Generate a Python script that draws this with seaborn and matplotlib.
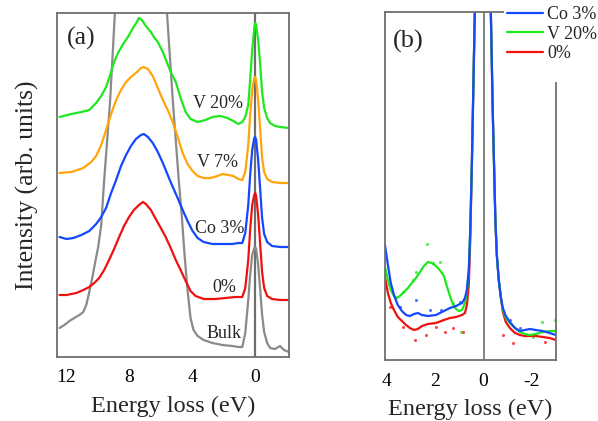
import numpy as np
import pandas as pd
import matplotlib
matplotlib.use("Agg")
from matplotlib import pyplot as plt
from matplotlib.ticker import MultipleLocator
import seaborn as sns

# ---------- panel (a) : offset spectra, energy loss (eV) vs intensity (arb.)
v20_e = [12.44, 11.69, 11.05, 10.55, 10.11, 9.79, 9.48, 9.16, 8.97, 8.72, 8.40, 8.09, 7.77,
         7.52, 7.39, 7.20, 6.95, 6.63, 6.44, 6.19, 5.87, 5.62, 5.37, 5.05, 4.74, 4.42, 4.11,
         3.66, 3.16, 2.72, 2.21, 1.77, 1.39, 1.07, 0.82,
         0.63, 0.44, 0.32, 0.19, 0.06, 0.0, -0.06, -0.19, -0.32, -0.44, -0.57, -0.76, -0.95,
         -1.26, -1.58, -2.15]
v20_i = [240, 243, 245, 247, 254, 261, 270, 285, 295, 304, 313, 320, 329,
         335, 339, 337, 331, 325, 320, 315, 305, 295, 285, 275, 259, 245, 238,
         235, 237, 240, 241, 239, 236, 233, 235,
         240, 252, 277, 307, 329, 334, 332, 317, 292, 265, 249, 239, 234,
         231, 230, 229]

v7_e = [12.44, 11.69, 10.93, 10.42, 10.11, 9.79, 9.48, 9.16, 8.84, 8.53, 8.21, 7.90, 7.58,
        7.26, 7.08, 6.82, 6.51, 6.19, 5.87, 5.56, 5.24, 4.93, 4.61, 4.30, 3.98, 3.66, 3.28,
        2.84, 2.40, 2.08, 1.71, 1.39, 1.07, 0.82,
        0.63, 0.44, 0.32, 0.19, 0.06, 0.0, -0.06, -0.19, -0.32, -0.44, -0.57, -0.76, -1.07,
        -1.58, -2.15]
v7_i = [184, 185, 189, 195, 201, 212, 227, 243, 257, 267, 275, 280, 284,
        289, 290, 288, 281, 269, 257, 247, 235, 220, 204, 193, 186, 181, 179,
        179, 181, 183, 182, 181, 178, 177,
        185, 212, 242, 267, 279, 280, 277, 257, 227, 199, 185, 178, 175,
        174, 174]

co3_e = [12.44, 12.00, 11.56, 11.05, 10.55, 10.11, 9.79, 9.48, 9.16, 8.84, 8.53, 8.21, 7.90,
         7.58, 7.26, 7.08, 6.82, 6.51, 6.19, 5.87, 5.56, 5.24, 4.93, 4.61, 4.30, 3.98, 3.66,
         3.28, 2.72, 2.08, 1.45, 1.07, 0.82,
         0.63, 0.44, 0.32, 0.19, 0.06, 0.0, -0.06, -0.19, -0.32, -0.44, -0.57, -0.76, -1.07,
         -1.58, -2.15]
co3_i = [120, 118, 119, 122, 126, 133, 140, 149, 164, 177, 191, 202, 211,
         218, 222, 223, 220, 214, 205, 194, 182, 170, 159, 147, 136, 126, 119,
         115, 113, 113, 113, 114, 114,
         124, 152, 182, 207, 219, 220, 217, 197, 167, 139, 123, 115, 111,
         110, 110]

p0_e = [12.44, 12.00, 11.37, 10.93, 10.55, 10.23, 9.92, 9.60, 9.29, 8.97, 8.65, 8.34, 8.02,
        7.71, 7.39, 7.14, 6.95, 6.63, 6.32, 6.00, 5.69, 5.37, 5.05, 4.74, 4.42, 4.11, 3.79,
        3.28, 2.53, 1.90, 1.26, 0.82,
        0.63, 0.44, 0.32, 0.19, 0.06, 0.0, -0.06, -0.19, -0.32, -0.44, -0.57, -0.76, -1.07,
        -1.58, -2.15]
p0_i = [62, 62, 64, 67, 70, 74, 79, 87, 97, 108, 120, 131, 140,
        147, 152, 155, 153, 147, 138, 129, 120, 109, 97, 87, 76, 66, 61,
        58, 58, 59, 60, 60,
        69, 97, 127, 152, 162, 164, 161, 142, 112, 85, 69, 61, 58,
        57, 57]

bulk_e = [12.44, 12.13, 11.81, 11.50, 11.18, 10.93, 10.74, 10.55, 10.36, 10.17, 9.98, 9.79,
          9.60, 9.41, 9.22, 9.03, 8.91, 8.78, 7.20,
          5.75, 5.62, 5.43, 5.24, 5.05, 4.86, 4.67, 4.49, 4.30, 4.11, 3.92, 3.66, 3.28, 2.72,
          2.08, 1.45, 1.07, 0.82,
          0.63, 0.44, 0.32, 0.19, 0.06, 0.0, -0.06, -0.19, -0.32, -0.44, -0.57, -0.76,
          -0.95, -1.26, -1.58, -1.83, -2.15]
bulk_i = [29, 32, 36, 39, 42, 45, 52, 65, 79, 95, 110, 132,
          177, 217, 257, 312, 347, 387, 1500,
          387, 347, 302, 257, 217, 177, 142, 102, 67, 39, 27, 21, 17, 14,
          12, 11, 10, 10,
          24, 57, 82, 102, 109, 110, 108, 92, 67, 42, 25, 14,
          9, 8, 11, 7, 5]

labels_a = ["V 20%", "V 7%", "Co 3%", "0%", "Bulk"]
label_pos_e = [2.34, 2.40, 2.27, 1.96, 1.96]
label_pos_i = [254, 195, 129, 69, 23]

# ---------- panel (b) : zoom on the gap region
co3b_e = [4.08, 3.96, 3.84, 3.71, 3.55, 3.38, 3.21, 3.05, 2.88, 2.72, 2.55, 2.30, 1.97, 1.64,
          1.39, 1.14, 0.89, 0.77, 0.69, 0.61, 0.55, 0.48, 0.44, 0.40, 0.36, 0.0,
          -0.30, -0.34, -0.38, -0.43, -0.49, -0.55, -0.63, -0.72, -0.80, -0.92, -1.09, -1.30,
          -1.50, -1.71, -1.92, -2.16, -2.45, -2.74, -2.99]
co3b_i = [115, 95, 77, 65, 55, 49, 45, 44, 46, 47, 45, 44, 45, 49,
          52, 54, 57, 62, 70, 90, 130, 200, 250, 300, 350, 3000,
          350, 300, 250, 200, 140, 105, 80, 62, 52, 44, 38, 32,
          29, 30, 31, 30, 29, 27, 25]

v20b_e = [4.08, 3.96, 3.84, 3.71, 3.59, 3.46, 3.30, 3.13, 2.97, 2.80, 2.63, 2.47, 2.30, 2.14,
          1.97, 1.81, 1.64, 1.52, 1.39, 1.27, 1.14, 1.02, 0.89, 0.77, 0.69, 0.61, 0.55, 0.48,
          0.44, 0.40, 0.36, 0.0,
          -0.30, -0.34, -0.38, -0.43, -0.49, -0.55, -0.63, -0.72, -0.80, -0.92, -1.09, -1.30,
          -1.50, -1.71, -1.92, -2.16, -2.45, -2.74, -2.99]
v20b_i = [93, 80, 70, 64, 62, 64, 68, 72, 77, 82, 88, 94, 98, 97,
          94, 90, 84, 74, 64, 56, 51, 49, 50, 57, 68, 90, 130, 200,
          250, 300, 350, 3000,
          350, 300, 250, 200, 140, 105, 80, 62, 50, 42, 37, 32,
          28, 26, 25, 26, 28, 29, 29]

p0b_e = [4.08, 3.96, 3.84, 3.71, 3.55, 3.38, 3.21, 3.05, 2.88, 2.72, 2.55, 2.30, 1.97, 1.64,
         1.39, 1.14, 0.89, 0.77, 0.69, 0.61, 0.55, 0.48, 0.44, 0.40, 0.36, 0.0,
         -0.30, -0.34, -0.38, -0.43, -0.49, -0.55, -0.63, -0.72, -0.80, -0.92, -1.09, -1.30,
         -1.50, -1.71, -1.92, -2.16, -2.45, -2.74, -2.99]
p0b_i = [83, 67, 57, 50, 43, 39, 35, 32, 30, 31, 34, 36, 37, 40,
         42, 43, 45, 47, 55, 75, 120, 200, 250, 300, 350, 3000,
         350, 300, 250, 200, 140, 105, 80, 62, 48, 38, 32, 27,
         25, 24, 24, 24, 23, 22, 20]

# raw data points scattered around the smoothed curves in (b)
v20b_dot_e = [2.35, 2.80, 2.10, 1.81, 3.34, 2.93, 0.94, 1.27, -2.41, -2.95, -2.04]
v20b_dot_i = [116, 88, 97, 98, 68, 80, 28, 57, 38, 40, 23]
p0b_dot_e = [2.84, 2.39, 3.34, 1.60, 1.27, 0.86, 3.88, 1.97, -1.21, -0.80, -2.54]
p0b_dot_i = [20, 25, 33, 28, 32, 28, 53, 33, 17, 25, 18]
co3b_dot_e = [2.80, 2.22, 1.77, 0.98, 3.46, -1.09, -1.50]
co3b_dot_i = [60, 50, 50, 58, 53, 40, 32]

c_green = "#1ee81e"
c_orange = "#ffa50a"
c_blue = "#1448ff"
c_red = "#f01010"
c_gray = "#8a8a8a"
c_spine = "#6e6e6e"

sns.set_style("white")
plt.rcParams['font.family'] = ['Liberation Serif', 'DejaVu Serif']
plt.rcParams['axes.unicode_minus'] = False

fig = plt.figure(figsize=(5.98, 4.21), dpi=100)
ax1 = fig.add_axes([57 / 598, 64 / 421, 232 / 598, 344 / 421])
ax2 = fig.add_axes([385 / 598, 61 / 421, 171 / 598, 348 / 421])

lw = 1.6
ax1.axvline(0, color=c_spine, lw=1.6, zorder=1)
for e, i, c in [(bulk_e, bulk_i, c_gray), (p0_e, p0_i, c_red), (co3_e, co3_i, c_blue),
                (v7_e, v7_i, c_orange), (v20_e, v20_i, c_green)]:
    sns.lineplot(x=e, y=i, ax=ax1, color=c, lw=lw, estimator=None)

for t, x, y in zip(labels_a, label_pos_e, label_pos_i):
    ax1.text(x, y, t, fontsize=13, ha="center", va="center")

ax1.text(0.043, 0.96, "(a)", transform=ax1.transAxes, fontsize=18.5, va="top", ha="left")
ax1.set_xlim(12.6, -2.15)
ax1.set_ylim(0, 344)
ax1.set_xticks([12, 8, 4, 0])
ax1.set_xticklabels(["12", "8", "4", "0"])
ax1.xaxis.set_minor_locator(MultipleLocator(1))
ax1.set_yticks([])
ax1.set_xlabel("Energy loss (eV)", fontsize=17.5, labelpad=7)
ax1.set_ylabel("Intensity (arb. units)", fontsize=18.5, labelpad=13)

ax2.axvline(0, color=c_spine, lw=1.2, zorder=1)
for e, i, c in [(v20b_dot_e, v20b_dot_i, c_green), (p0b_dot_e, p0b_dot_i, c_red),
                (co3b_dot_e, co3b_dot_i, c_blue)]:
    sns.scatterplot(x=e, y=i, ax=ax2, color=c, s=5, alpha=0.75, linewidth=0)
sns.lineplot(x=p0b_e, y=p0b_i, ax=ax2, color=c_red, lw=lw, estimator=None, label="0%")
sns.lineplot(x=v20b_e, y=v20b_i, ax=ax2, color=c_green, lw=lw, estimator=None, label="V 20%")
sns.lineplot(x=co3b_e, y=co3b_i, ax=ax2, color=c_blue, lw=lw, estimator=None, label="Co 3%")
ax2.text(0.047, 0.948, "(b)", transform=ax2.transAxes, fontsize=19, va="top", ha="left")
ax2.set_xlim(4.08, -3.0)
ax2.set_ylim(0, 348)
ax2.set_xticks([4, 2, 0, -2])
ax2.set_xticklabels(["4", "2", "0", "-2"])
ax2.xaxis.set_minor_locator(MultipleLocator(1))
ax2.set_yticks([])
ax2.set_xlabel("Energy loss (eV)", fontsize=17.5, labelpad=7)
ax2.spines['top'].set_bounds(4.08, -0.80)
ax2.spines['right'].set_bounds(0, 277)

h, l = ax2.get_legend_handles_labels()
order = [2, 1, 0]
ax2.legend([h[k] for k in order], [l[k] for k in order], loc="upper left",
           bbox_to_anchor=(505 / 598, 0.99), bbox_transform=fig.transFigure,
           frameon=False, fontsize=13, labelspacing=0.15, handlelength=2.0,
           handletextpad=0.25, borderpad=0.1, borderaxespad=0)

for ax in (ax1, ax2):
    for s in ax.spines.values():
        s.set_color(c_spine)
        s.set_linewidth(1.3)
    ax.tick_params(axis="x", which="both", direction="in", colors="black",
                   labelsize=14, pad=9)
    ax.tick_params(axis="x", which="major", length=5, width=1, color=c_spine)
    ax.tick_params(axis="x", which="minor", length=5, width=1, color=c_spine)

fig.savefig("out.png", dpi=100)
